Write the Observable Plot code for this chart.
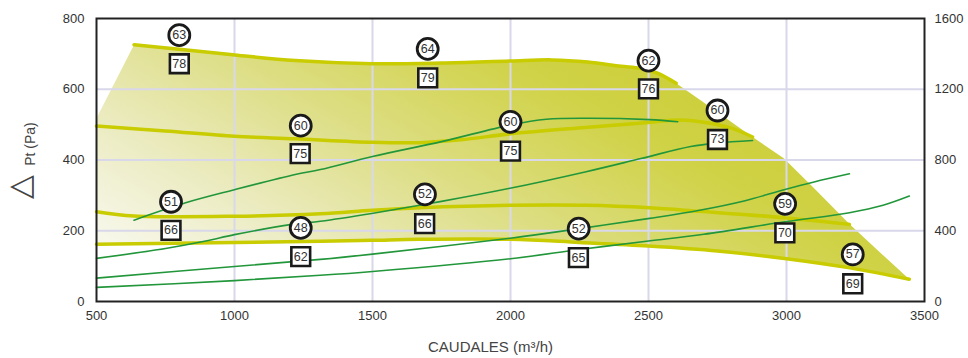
<!DOCTYPE html>
<html><head><meta charset="utf-8">
<script src="https://cdn.jsdelivr.net/npm/d3@7"></script>
<script src="https://cdn.jsdelivr.net/npm/@observablehq/plot@0.6"></script>
<style>body{margin:0;background:#fff;}</style>
</head><body><div id="chart"></div>
<script>
// Fan pressure curves, Pa (left axis)  [caudal m3/h, Pa]
const fanTop = [[636,726],[800,713],[1000,697],[1220,681],[1500,672],[1750,674],[2000,680],[2150,683],[2280,677],[2400,665],[2470,659],[2530,646],[2600,617]];
const fanMid = [[500,496],[750,482],[1000,467],[1220,460],[1500,450],[1670,449],[1820,457],[2000,474],[2270,492],[2500,506],[2610,513],[2700,507],[2800,490],[2877,465]];
const fanLow = [[500,254],[636,242],[1000,241],[1311,248],[1500,258],[1672,265],[2000,272],[2274,272],[2504,265],[2685,255],[2990,237],[3228,218]];
const fanBottom = [[500,162],[1000,167],[1311,170],[1500,173],[1670,176],[2000,176],[2250,167],[2500,157],[2750,143],[3000,121],[3230,95],[3445,63]];
// Working-range envelope: left corner and right (system) edge
const envelopeLeft = [[500,518]];
const envelopeRight = [[2690,568],[2877,465],[2990,405],[3100,320],[3228,219],[3340,138]];
// Power curves, W (right axis)  [caudal m3/h, W]
const power1 = [[636,460],[823,558],[1000,632],[1220,718],[1311,746],[1500,820],[1750,904],[2000,998],[2130,1030],[2274,1036],[2504,1028],[2606,1016]];
const power2 = [[500,244],[750,300],[896,342],[1000,378],[1208,436],[1311,454],[1497,498],[1750,566],[1998,640],[2274,734],[2472,808],[2653,876],[2750,896],[2877,910]];
const power3 = [[500,132],[1000,198],[1311,238],[1500,268],[2000,358],[2250,412],[2504,470],[2685,516],[2850,570],[2991,632],[3100,676],[3228,722]];
const power4 = [[500,80],[1000,118],[1311,148],[1500,170],[2000,242],[2250,294],[2500,342],[2700,380],[3000,452],[3228,502],[3350,544],[3445,596]];
// Circle labels and square labels [x, y(Pa), text]
const circleLabels = [[800,753,"63"],[1700,714,"64"],[2500,681,"62"],[2750,540,"60"],[1240,497,"60"],[2000,508,"60"],[770,282,"51"],[1240,208,"48"],[1690,303,"52"],[2247,206,"52"],[2995,276,"59"],[3240,133,"57"]];
const squareLabels = [[800,672,"78"],[1700,632,"79"],[2500,601,"76"],[2750,458,"73"],[1238,418,"75"],[2000,425,"75"],[770,201,"66"],[1240,127,"62"],[1689,220,"66"],[2246,124,"65"],[2994,194,"70"],[3240,50,"69"]];
// Ticks
const xTicks = [500,1000,1500,2000,2500,3000,3500];
const yTicks = [0,200,400,600,800];
const xGrid = [1000,1500,2000,2500,3000];
const yGrid = [200,400,600];

const envelope = [...envelopeLeft, ...fanTop, ...envelopeRight, ...fanBottom.slice().reverse()];

const X = d => d[0], Y = d => d[1], YW = d => d[1] / 2;
const yellow = "#c8cc00", green = "#22963a";
const fmt = d => String(d);

const gradientDefs = () => {
  const defs = d3.create("svg:defs");
  const g = defs.append("linearGradient").attr("id","envGrad")
    .attr("x1",0).attr("y1",0.8).attr("x2",1).attr("y2",0.3);
  [[0,"#f7f7ea"],[0.2,"#ebebc0"],[0.45,"#dcdd80"],[0.7,"#d0d247"],[1,"#c9cc2e"]]
    .forEach(([o,c]) => g.append("stop").attr("offset",o).attr("stop-color",c));
  return defs.node();
};

const chart = Plot.plot({
  width: 968, height: 358,
  marginLeft: 96, marginRight: 44, marginTop: 18, marginBottom: 57,
  style: {fontFamily: "'Liberation Sans', Arial, sans-serif", background: "#fff", color: "#333"},
  x: {domain: [500,3500]},
  y: {domain: [0,800]},
  marks: [
    gradientDefs,
    Plot.line(envelope, {x: X, y: Y, fill: "url(#envGrad)", stroke: "none"}),
    Plot.ruleX(xGrid, {stroke: "#d9d7ea", strokeWidth: 2}),
    Plot.ruleY(yGrid, {stroke: "#d9d7ea", strokeWidth: 2}),
    ...[fanTop, fanMid, fanLow, fanBottom].map(c => Plot.line(c, {x: X, y: Y, stroke: yellow, strokeWidth: 3.5, curve: "catmull-rom"})),
    ...[power1, power2, power3, power4].map(c => Plot.line(c, {x: X, y: YW, stroke: green, strokeWidth: 1.6, curve: "catmull-rom"})),
    Plot.frame({stroke: "#222", strokeWidth: 2}),
    Plot.axisX({ticks: xTicks, tickFormat: fmt, tickSize: 0, tickPadding: 9, fontSize: 13, label: null, fill: "#333"}),
    Plot.axisY({ticks: yTicks, tickFormat: fmt, tickSize: 0, tickPadding: 12, fontSize: 13, label: null, fill: "#333"}),
    Plot.axisY({ticks: yTicks, anchor: "right", tickFormat: d => String(d * 2), tickSize: 0, tickPadding: 10, fontSize: 13, label: null, fill: "#333"}),
    Plot.dot(circleLabels, {x: X, y: Y, r: 10.5, fill: "white", stroke: "#1a1a1a", strokeWidth: 2.8}),
    Plot.text(circleLabels, {x: X, y: Y, text: d => d[2], fontSize: 12.5, fill: "#333"}),
    Plot.dot(squareLabels, {x: X, y: Y, symbol: "square", r: 10.6, fill: "white", stroke: "#1a1a1a", strokeWidth: 2.6}),
    Plot.text(squareLabels, {x: X, y: Y, text: d => d[2], fontSize: 12.5, fill: "#333"}),
    Plot.text(["CAUDALES (m³/h)"], {frameAnchor: "bottom", dy: 50, dx: -20, fontSize: 15, fill: "#444", text: d => d}),
    Plot.text(["Pt (Pa)"], {frameAnchor: "left", textAnchor: "middle", dx: -66, dy: -16, rotate: -90, fontSize: 14, fill: "#444", text: d => d}),
    Plot.text(["△"], {frameAnchor: "left", textAnchor: "middle", dx: -76, dy: 27, rotate: -90, fontSize: 31, fill: "#444", fontFamily: "DejaVu Sans", text: d => d})
  ]
});
document.getElementById("chart").appendChild(chart);
</script>
</body></html>
